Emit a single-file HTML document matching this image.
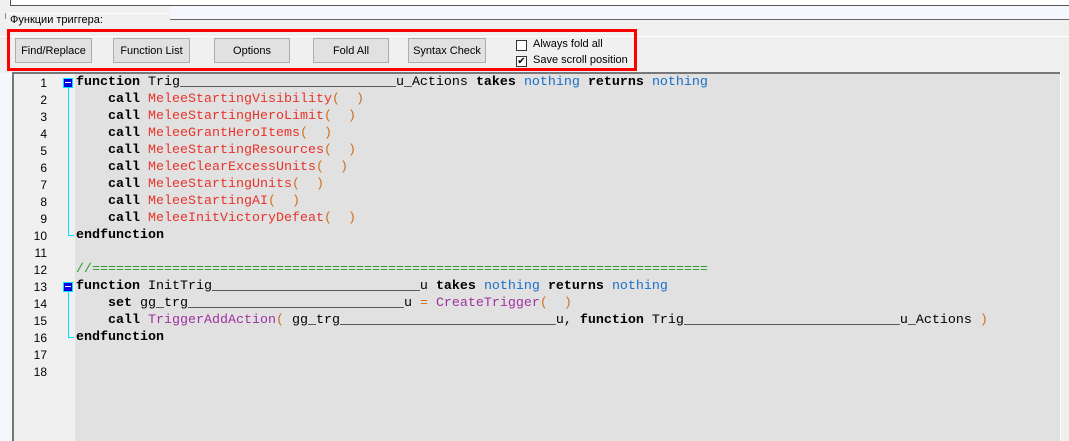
<!DOCTYPE html>
<html><head><meta charset="utf-8"><style>
body{margin:0;width:1069px;height:441px;background:#f0f0f0;position:relative;overflow:hidden;font-family:"Liberation Sans",sans-serif;}
.a{position:absolute;}
.btn{position:absolute;top:38px;height:25px;border:1px solid #adadad;background:#e1e1e1;font-size:11px;line-height:25px;text-align:center;color:#000;box-sizing:border-box;}
.code{position:absolute;left:76px;font-family:"Liberation Mono",monospace;font-size:13.33px;white-space:pre;color:#000;line-height:17px;}
.b{font-weight:bold}
.n{color:#1a6fc8}
.r{color:#e8332a}
.p{color:#d07020}
.m{color:#a030a0}
.g{color:#2aa02a}
</style></head><body>
<div class="a" style="left:10px;top:0;width:1059px;height:5px;background:#fff;border-bottom:1px solid #555;border-left:1px solid #555"></div>
<div class="a" style="left:170px;top:6px;width:899px;height:13px;background:#f4f8fc;border-bottom:1px solid #666"></div>
<div class="a" style="left:5px;top:13px;width:165px;height:1px;background:#fff"></div>
<div class="a" style="left:5px;top:13px;width:1px;height:6px;background:#888"></div>
<div class="a" style="left:0;top:36px;width:1069px;height:1px;background:#fff"></div>
<div class="a" style="left:10px;top:14px;font-size:11px;color:#000">Функции триггера:</div>
<div class="btn" style="left:15px;width:77px">Find/Replace</div>
<div class="btn" style="left:113px;width:77px">Function List</div>
<div class="btn" style="left:214px;width:76px">Options</div>
<div class="btn" style="left:313px;width:76px">Fold All</div>
<div class="btn" style="left:408px;width:78px">Syntax Check</div>
<div class="a" style="left:516px;top:40px;width:11px;height:11px;border:1px solid #333;background:#fff;box-sizing:border-box"></div>
<div class="a" style="left:533px;top:38px;font-size:11px">Always fold all</div>
<div class="a" style="left:516px;top:56px;width:11px;height:11px;border:1px solid #333;background:#fff;box-sizing:border-box;font-size:10px;line-height:9px;text-align:center">✔</div>
<div class="a" style="left:533px;top:54px;font-size:11px">Save scroll position</div>
<div class="a" style="left:7px;top:29px;width:630px;height:42px;border:3px solid #f00;box-sizing:border-box"></div>
<div class="a" style="left:0;top:73px;width:12px;height:368px;background:#f4f8fc"></div>
<div class="a" style="left:12px;top:72px;width:1048px;height:2px;background:#777"></div>
<div class="a" style="left:12px;top:72px;width:2px;height:369px;background:#777"></div>
<div class="a" style="left:14px;top:74px;width:61px;height:367px;background:#f0f0f0"></div>
<div class="a" style="left:75px;top:74px;width:985px;height:367px;background:#e1e1e1"></div>
<div class="a" style="left:1060px;top:72px;width:1px;height:369px;background:#fff"></div>
<div class="a" style="left:63px;top:78px;width:10px;height:10px;background:#0000e0;border:1px solid #00e0ff;box-sizing:border-box"></div>
<div class="a" style="left:65px;top:82px;width:6px;height:1px;background:#fff"></div>
<div class="a" style="left:68px;top:88px;width:1px;height:148px;background:#00e0ff"></div>
<div class="a" style="left:68px;top:235px;width:6px;height:1px;background:#00e0ff"></div>
<div class="a" style="left:63px;top:282px;width:10px;height:10px;background:#0000e0;border:1px solid #00e0ff;box-sizing:border-box"></div>
<div class="a" style="left:65px;top:286px;width:6px;height:1px;background:#fff"></div>
<div class="a" style="left:68px;top:292px;width:1px;height:46px;background:#00e0ff"></div>
<div class="a" style="left:68px;top:337px;width:6px;height:1px;background:#00e0ff"></div>
<div class="a" style="left:0;top:75px;width:47px;font-size:12px;line-height:17px;text-align:right">1<br>2<br>3<br>4<br>5<br>6<br>7<br>8<br>9<br>10<br>11<br>12<br>13<br>14<br>15<br>16<br>17<br>18</div>
<div class="code" style="top:74px"><span class="b">function</span> Trig___________________________u_Actions <span class="b">takes</span> <span class="n">nothing</span> <span class="b">returns</span> <span class="n">nothing</span>
    <span class="b">call</span> <span class="r">MeleeStartingVisibility</span><span class="p">(  )</span>
    <span class="b">call</span> <span class="r">MeleeStartingHeroLimit</span><span class="p">(  )</span>
    <span class="b">call</span> <span class="r">MeleeGrantHeroItems</span><span class="p">(  )</span>
    <span class="b">call</span> <span class="r">MeleeStartingResources</span><span class="p">(  )</span>
    <span class="b">call</span> <span class="r">MeleeClearExcessUnits</span><span class="p">(  )</span>
    <span class="b">call</span> <span class="r">MeleeStartingUnits</span><span class="p">(  )</span>
    <span class="b">call</span> <span class="r">MeleeStartingAI</span><span class="p">(  )</span>
    <span class="b">call</span> <span class="r">MeleeInitVictoryDefeat</span><span class="p">(  )</span>
<span class="b">endfunction</span>

<span class="g">//=============================================================================</span>
<span class="b">function</span> InitTrig__________________________u <span class="b">takes</span> <span class="n">nothing</span> <span class="b">returns</span> <span class="n">nothing</span>
    <span class="b">set</span> gg_trg___________________________u <span class="p">=</span> <span class="m">CreateTrigger</span><span class="p">(  )</span>
    <span class="b">call</span> <span class="m">TriggerAddAction</span><span class="p">(</span> gg_trg___________________________u, <span class="b">function</span> Trig___________________________u_Actions <span class="p">)</span>
<span class="b">endfunction</span></div>
</body></html>
